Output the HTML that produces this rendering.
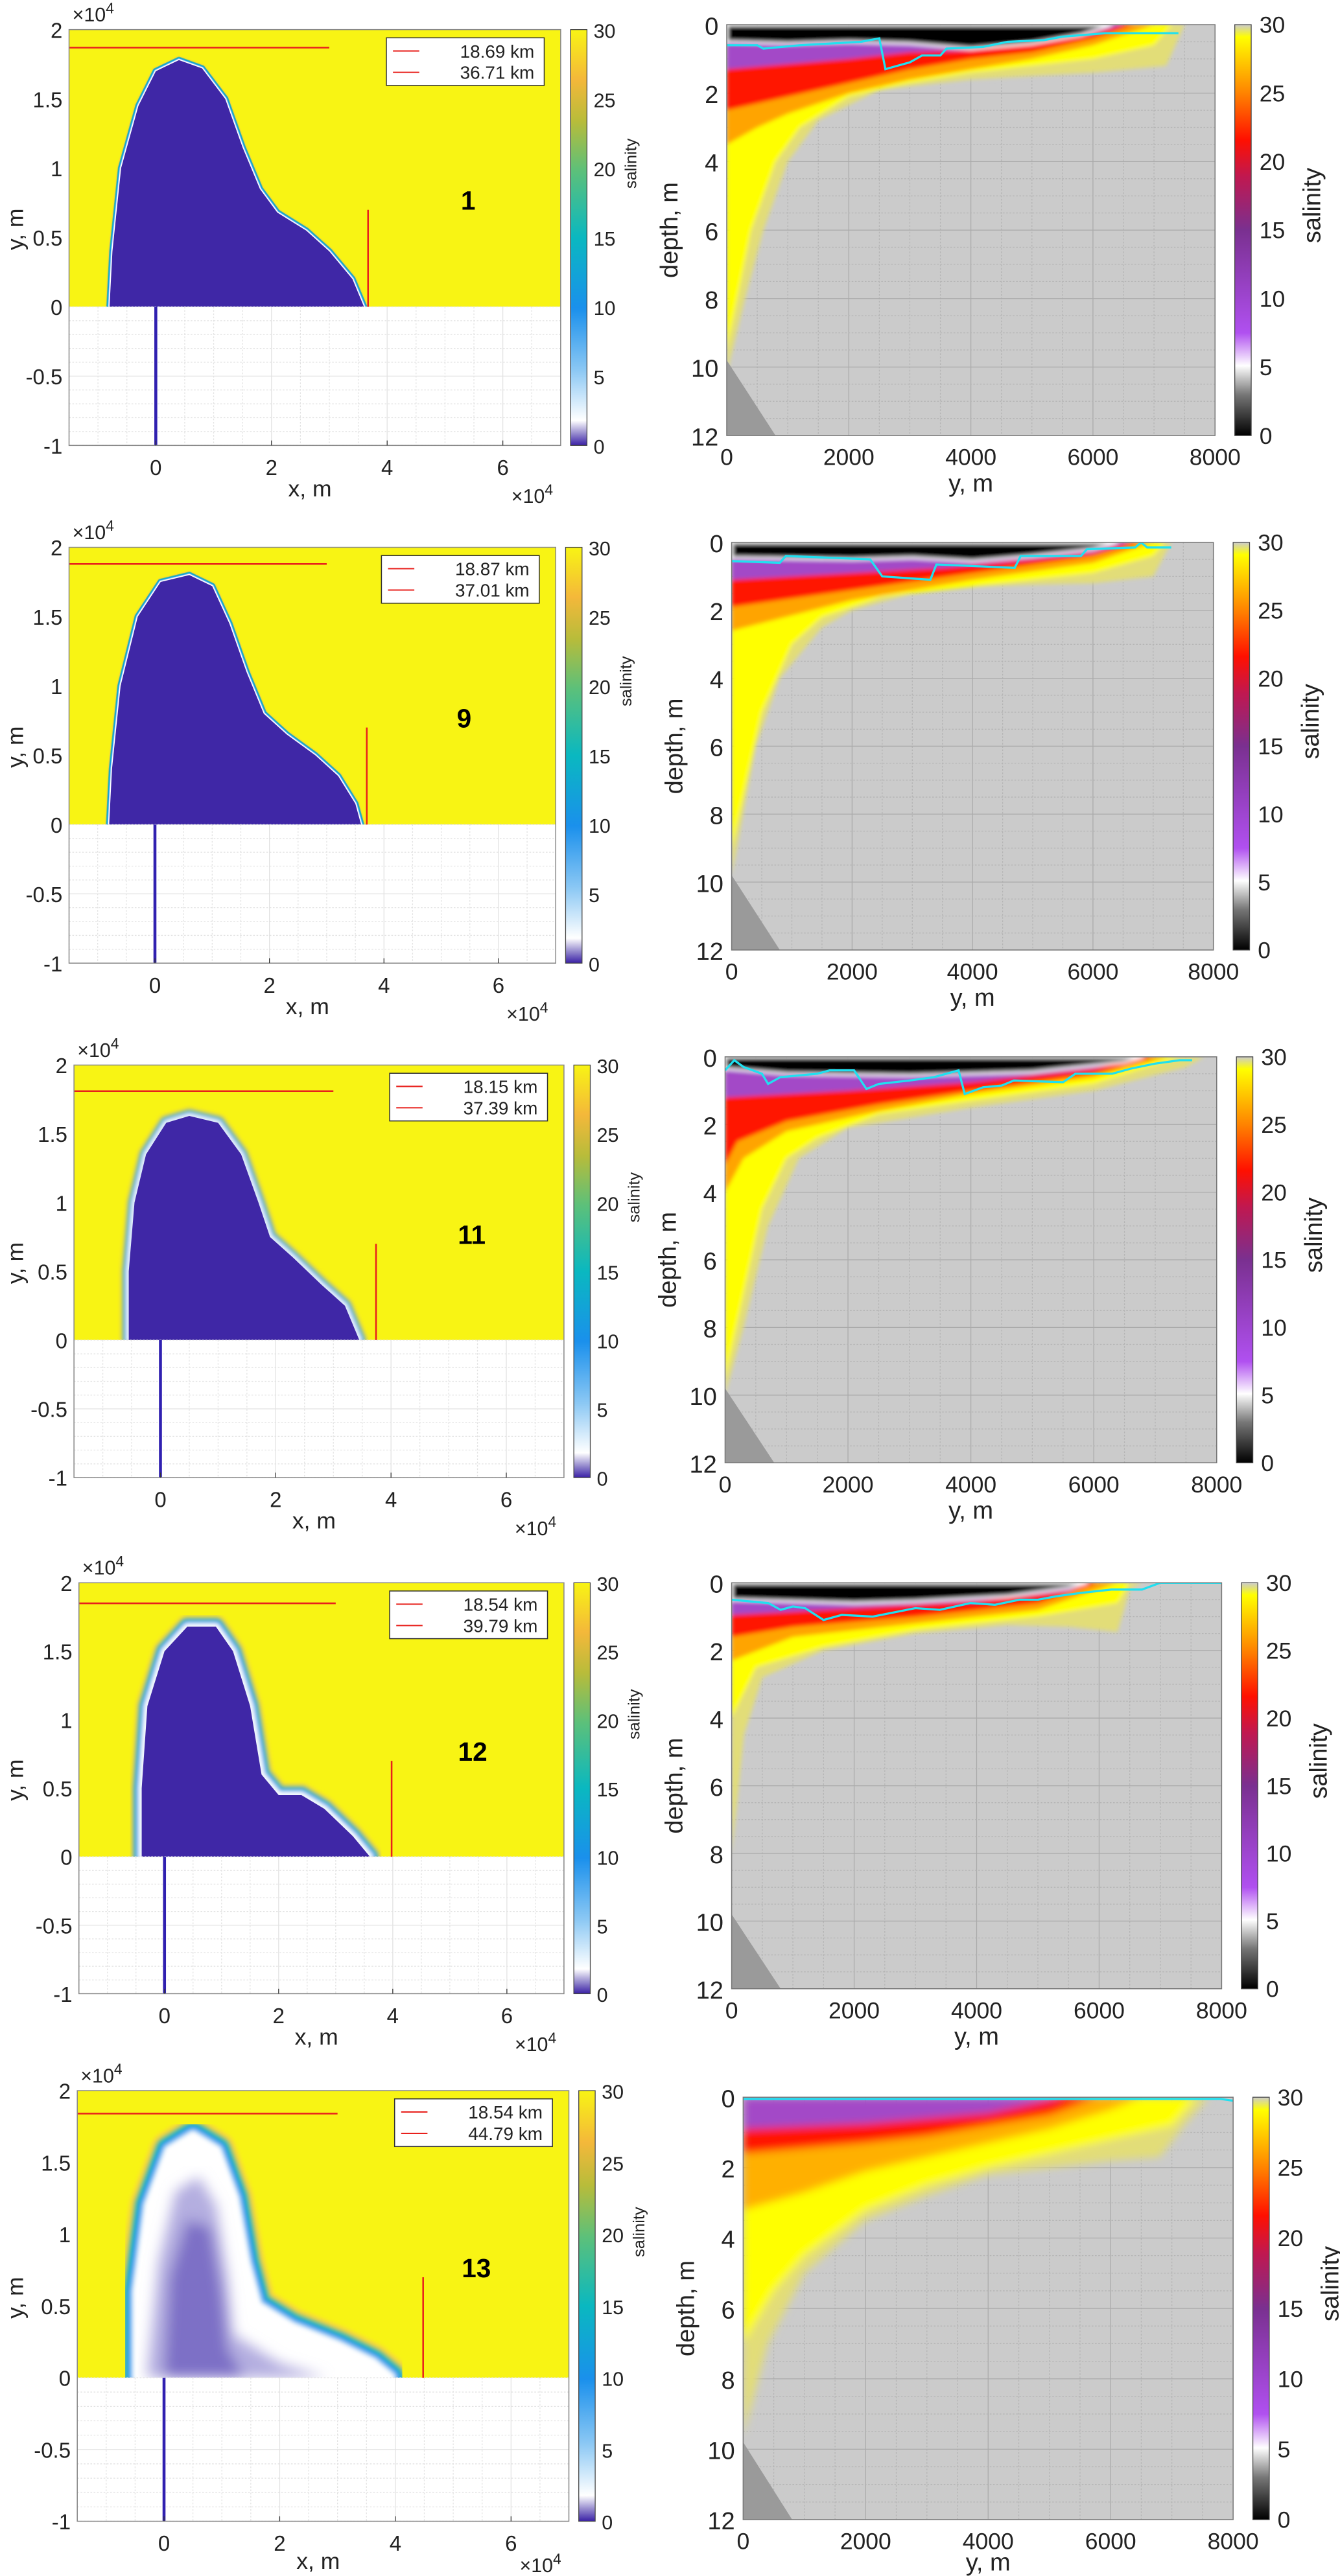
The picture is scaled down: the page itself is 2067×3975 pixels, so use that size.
<!DOCTYPE html>
<html><head><meta charset="utf-8">
<style>
html,body{margin:0;padding:0;background:#fff;}
svg{display:block;font-family:"Liberation Sans",sans-serif;}
</style></head>
<body>
<svg id="fig" width="2067" height="3975" viewBox="0 0 815 1567.3" xmlns="http://www.w3.org/2000/svg">
<defs>
<linearGradient id="parula" x1="0" y1="1" x2="0" y2="0">
<stop offset="0" stop-color="#3a20a6"/><stop offset="0.03" stop-color="#9a90d0"/><stop offset="0.06" stop-color="#ffffff"/>
<stop offset="0.18" stop-color="#8cc8f4"/><stop offset="0.33" stop-color="#1a90ec"/><stop offset="0.5" stop-color="#0ab8c0"/>
<stop offset="0.66" stop-color="#5cc07a"/><stop offset="0.78" stop-color="#b8bc3a"/><stop offset="0.88" stop-color="#f4b83a"/>
<stop offset="1" stop-color="#f8f414"/></linearGradient>
<linearGradient id="hot" x1="0" y1="1" x2="0" y2="0">
<stop offset="0" stop-color="#000"/><stop offset="0.1" stop-color="#777"/><stop offset="0.17" stop-color="#fff"/>
<stop offset="0.25" stop-color="#b050f0"/><stop offset="0.5" stop-color="#7a3090"/><stop offset="0.63" stop-color="#c01850"/>
<stop offset="0.72" stop-color="#ff1000"/><stop offset="0.83" stop-color="#ff8000"/><stop offset="0.97" stop-color="#ffff00"/><stop offset="1" stop-color="#ccc"/></linearGradient>
<filter id="soft" x="-5%" y="-5%" width="110%" height="110%"><feGaussianBlur stdDeviation="1.3"/></filter>
<filter id="soft2" x="-5%" y="-5%" width="110%" height="110%"><feGaussianBlur stdDeviation="2.5"/></filter>
<filter id="soft3" x="-5%" y="-5%" width="110%" height="110%"><feGaussianBlur stdDeviation="4"/></filter>
</defs>
</svg>
<script>
// ---------- data ----------
const panelIds = [1, 9, 11, 12, 13];
const legendA = ["18.69", "18.87", "18.15", "18.54", "18.54"];
const legendB = ["36.71", "37.01", "37.39", "39.79", "44.79"];
const hLineY = [1.87, 1.88, 1.81, 1.85, 1.84];          // x1e4 m
const vLineX = [3.67, 3.70, 3.74, 3.98, 4.48];          // x1e4 m
// plume outlines (x,y in 1e4 m)
const plume1 = [[-0.8,0],[-0.75,0.4],[-0.6,1.0],[-0.3,1.45],[0,1.7],[0.4,1.78],[0.8,1.72],[1.2,1.5],[1.5,1.15],[1.8,0.85],[2.1,0.68],[2.6,0.55],[3.0,0.4],[3.4,0.2],[3.6,0]];
const plume2 = [[-0.8,0],[-0.75,0.4],[-0.6,1.0],[-0.3,1.5],[0.1,1.75],[0.6,1.8],[1.0,1.72],[1.3,1.45],[1.6,1.1],[1.9,0.8],[2.3,0.65],[2.8,0.5],[3.2,0.35],[3.5,0.15],[3.6,0]];
const plume3 = [[-0.55,0],[-0.55,0.5],[-0.45,1.0],[-0.25,1.35],[0.1,1.58],[0.5,1.63],[1.0,1.58],[1.4,1.35],[1.7,1.0],[1.9,0.75],[2.3,0.6],[2.8,0.4],[3.2,0.25],[3.45,0]];
const plume4 = [[-0.4,0],[-0.4,0.5],[-0.3,1.1],[0,1.5],[0.4,1.68],[0.9,1.68],[1.2,1.5],[1.5,1.1],[1.7,0.6],[2.0,0.45],[2.4,0.45],[2.8,0.35],[3.3,0.15],[3.6,0]];
const plume5 = [[-0.45,0],[-0.45,0.6],[-0.25,1.2],[0.1,1.58],[0.5,1.68],[0.9,1.58],[1.2,1.25],[1.4,0.8],[1.6,0.5],[2.2,0.35],[3.0,0.22],[3.6,0.1],[3.9,0]];
const core5a = [[-0.3,0],[-0.1,0.8],[0.2,1.3],[0.6,1.4],[0.9,1.2],[1.1,0.7],[1.2,0.3],[2.0,0.1],[2.8,0]];
const core5b = [[0,0],[0.1,0.7],[0.4,1.1],[0.8,1.05],[1.0,0.6],[1.1,0.2],[1.4,0]];
const plumes = [plume1, plume2, plume3, plume4, plume5];
const haloW = [2.5, 2.5, 5, 7, 12];
// vertical section layers: [y m, depth m]
const sec1 = {
 pale:[[0,10.2],[300,8],[600,6],[1000,4],[1500,2.8],[2500,1.9],[4000,1.6],[6000,1.4],[7200,1.2],[7500,0]],
 yellow:[[0,9.5],[400,6],[800,4],[1200,3],[2000,2.1],[3000,1.7],[4000,1.4],[6000,1.0],[7000,0.6],[7300,0]],
 orange:[[0,3.5],[500,3.0],[1000,2.6],[2000,2.0],[3000,1.6],[4000,1.3],[5000,1.0],[6000,0.6],[7000,0]],
 red:[[0,2.5],[1000,2.1],[2000,1.7],[3000,1.3],[4000,1.0],[5000,0.8],[6000,0.4],[6700,0]],
 purple:[[0,1.3],[2000,1.0],[3000,0.8],[4000,0.75],[5000,0.55],[6000,0.25],[6500,0]],
 black:[[0,0.5],[1000,0.55],[2000,0.5],[3000,0.55],[4000,0.7],[5000,0.55],[5800,0.3],[6300,0]],
 cyan:[[0,0.6],[500,0.6],[600,0.7],[1200,0.6],[2200,0.5],[2500,0.4],[2600,1.3],[3000,1.1],[3200,0.9],[3500,0.9],[3600,0.7],[4200,0.65],[4600,0.5],[5200,0.45],[5500,0.35],[6200,0.25],[7400,0.25]]
};
const sec2 = {
 pale:[[0,9.8],[400,6],[800,4],[1500,2.5],[2000,2.0],[3000,1.5],[4000,1.3],[6000,1.2],[7000,1.0],[7300,0]],
 yellow:[[0,9],[500,5],[1000,3],[1500,2.2],[2500,1.6],[4000,1.3],[6000,0.9],[7000,0.4],[7200,0]],
 orange:[[0,2.6],[2000,1.7],[4000,1.1],[6000,0.6],[7000,0]],
 red:[[0,1.9],[2000,1.4],[4000,0.9],[6000,0.4],[6800,0]],
 purple:[[0,1.1],[2000,0.9],[3500,0.75],[5000,0.5],[6000,0.3],[6600,0]],
 black:[[0,0.45],[2000,0.5],[3000,0.45],[4000,0.55],[5000,0.4],[6000,0.2],[6400,0]],
 cyan:[[0,0.55],[800,0.6],[900,0.4],[2300,0.5],[2500,1.0],[3300,1.1],[3400,0.65],[4700,0.75],[4800,0.4],[5800,0.4],[5900,0.2],[6700,0.15],[6800,0],[6900,0.15],[7300,0.15]]
};
const sec3 = {
 pale:[[0,10],[300,8],[700,5],[1200,3],[2000,2.1],[4000,1.5],[6000,1.0],[7500,0.3],[7800,0]],
 yellow:[[0,9.5],[300,7],[600,4.5],[1000,3],[1500,2.4],[2500,1.7],[4000,1.3],[6000,0.8],[7400,0]],
 orange:[[0,4],[300,3],[1000,2.2],[2500,1.6],[4000,1.1],[6000,0.6],[7200,0]],
 red:[[0,3.2],[200,2.5],[1000,1.9],[2500,1.4],[4000,1.0],[6000,0.5],[7000,0]],
 purple:[[0,1.2],[2000,1.0],[4000,0.75],[6000,0.35],[6800,0]],
 black:[[0,0.35],[1000,0.5],[3000,0.55],[5000,0.45],[6500,0.15],[6800,0]],
 cyan:[[0,0.4],[150,0.1],[300,0.3],[600,0.5],[700,0.8],[900,0.6],[1500,0.5],[1700,0.4],[2100,0.4],[2300,0.95],[2500,0.8],[3000,0.7],[3400,0.6],[3800,0.4],[3900,1.1],[4200,0.9],[4500,0.85],[4700,0.7],[5500,0.75],[5700,0.5],[6300,0.5],[6600,0.35],[7000,0.2],[7400,0.1],[7600,0.1]]
};
const sec4 = {
 pale:[[0,8],[200,4.5],[500,2.8],[1500,2.0],[3000,1.5],[4500,1.25],[5500,1.3],[6300,1.45],[6500,0.2],[6700,0]],
 yellow:[[0,4],[400,2.5],[1500,1.9],[3000,1.4],[5000,1.0],[6300,0.6],[6500,0]],
 orange:[[0,2.3],[1000,1.6],[3000,1.2],[5000,0.8],[6300,0]],
 red:[[0,1.6],[1000,1.3],[3000,1.0],[5000,0.6],[6000,0]],
 purple:[[0,0.95],[2000,0.75],[4000,0.55],[5500,0.25],[5800,0]],
 black:[[0,0.5],[2000,0.6],[3000,0.55],[4500,0.4],[5500,0.15],[5800,0]],
 cyan:[[0,0.5],[600,0.6],[800,0.8],[1000,0.7],[1200,0.75],[1500,1.1],[1800,0.95],[2300,1.0],[3000,0.75],[3400,0.8],[3900,0.6],[4300,0.65],[4700,0.5],[5000,0.5],[5300,0.4],[5700,0.3],[6200,0.2],[6700,0.2],[7000,0],[8000,0]]
};
const sec5 = {
 pale:[[0,9.6],[400,7],[1000,5],[2000,3.5],[3000,2.8],[4000,2.2],[5000,2.0],[6000,1.8],[6800,1.7],[7200,0.8],[7600,0]],
 yellow:[[0,7],[500,5.5],[1000,4.5],[2000,3.2],[3000,2.5],[4000,2.0],[5000,1.6],[6000,1.2],[7000,0.8],[7400,0]],
 orange:[[0,3.2],[1000,2.7],[2000,2.1],[3000,1.7],[4000,1.3],[5000,0.9],[6000,0.35],[6500,0]],
 red:[[0,1.6],[1000,1.45],[2000,1.3],[3000,1.1],[4000,0.8],[5000,0.5],[5800,0]],
 purple:[[0,0.9],[2000,0.75],[4000,0.45],[5200,0]],
 black:[],
 cyan:[[0,0.05],[7800,0.05],[8000,0.1]]
};
const sections = [sec1, sec2, sec3, sec4, sec5];
const xTicks = [0, 2, 4, 6];
const yTicksL = [-1, -0.5, 0, 0.5, 1, 1.5, 2];
const cbTicks = [0, 5, 10, 15, 20, 25, 30];
const yTicksR = [0, 2000, 4000, 6000, 8000];
const depthTicks = [0, 2, 4, 6, 8, 10, 12];

// ---------- layout (not data) ----------
const L = [{x0:42,x1:341,yt:18,yb:271},{x0:42,x1:338,yt:333,yb:586},{x0:45,x1:343,yt:648,yb:899},{x0:48,x1:343,yt:963,yb:1213},{x0:47,x1:346,yt:1272,yb:1534}];
const R = [{x0:442,x1:739,yt:15,yb:265},{x0:445,x1:738,yt:330,yb:578},{x0:441,x1:740,yt:643,yb:890},{x0:445,x1:743,yt:963,yb:1210},{x0:452,x1:750,yt:1276,yb:1533}];
const NS = "http://www.w3.org/2000/svg";
const svg = document.getElementById('fig');
function mk(tag, attrs, parent, txt){const e=document.createElementNS(NS,tag);for(const k in attrs)e.setAttribute(k,attrs[k]);if(txt!==undefined)e.textContent=txt;(parent||svg).appendChild(e);return e;}

panelIds.forEach((pid, i) => {
  const g = mk('g', {});
  
  
  const l = L[i];
  const sx = v => l.x0 + (v + 1.5) / 8.5 * (l.x1 - l.x0);
  const sy = v => l.yb - (v + 1) / 3 * (l.yb - l.yt);
  const y0 = sy(0);
  const last = i == 4;
  // --- map axes ---
  const cid = 'clipTop' + i;
  const cp = mk('clipPath', {id: cid}, g); mk('rect', {x:l.x0, y:l.yt, width:l.x1-l.x0, height:y0-l.yt}, cp);
  const map = mk('g', {'clip-path':'url(#'+cid+')'}, g);
  
  
  mk('rect', {x:l.x0, y:l.yt, width:l.x1-l.x0, height:y0-l.yt, fill:'#f8f414'}, map);
  const pts = plumes[i].map(p => sx(p[0]).toFixed(2) + ',' + sy(p[1]).toFixed(2)).join(' ');
  const w = haloW[i];
  const haloCols = [['#f5c060', 2.0], ['#5cc07a', 1.6], ['#0ab8c0', 1.35], ['#1a90ec', 1.1], ['#8cc8f4', 0.8], ['#ffffff', 0.5]];
  const hg = mk('g', {filter: i >= 2 ? 'url(#soft)' : ''}, map);
  haloCols.forEach(c => {
    mk('polygon', {points: pts, fill: 'none', stroke: c[0], 'stroke-width': w * c[1], 'stroke-linejoin': 'round', opacity: c[0]=='#f5c060' ? 0.6 : 1}, hg);
  });
  const plume = mk('polygon', {points: pts, fill: last ? '#ffffff' : '#3f27a6'}, map);
  
  
  if (last) {
    const cg = mk('g', {filter:'url(#soft3)'}, map);
    mk('polygon', {points: core5a.map(p => sx(p[0]) + ',' + sy(p[1])).join(' '), fill: '#b4aee0'}, cg);
    mk('polygon', {points: core5b.map(p => sx(p[0]) + ',' + sy(p[1])).join(' '), fill: '#7d70c6'}, cg);
  }
  // lower white grid region
  const lg = mk('g', {}, g);
  for (let v = -1.5; v <= 7; v += 0.5) mk('line', {x1:sx(v), x2:sx(v), y1:y0, y2:l.yb, stroke:'#e2e2e2', 'stroke-width':0.5, 'stroke-dasharray': (Math.abs(v%2)<1e-9)?'':'1,1'}, lg);
  for (let v = -1; v < 0; v += 0.1) mk('line', {x1:l.x0, x2:l.x1, y1:sy(v), y2:sy(v), stroke:'#e2e2e2', 'stroke-width':0.5, 'stroke-dasharray': Math.abs(v+0.5)<1e-6?'':'1,1'}, lg);
  // red lines, blue line
  const hl = mk('line', {x1:l.x0, x2:sx(3), y1:sy(hLineY[i]), y2:sy(hLineY[i]), stroke:'#e8201c', 'stroke-width':1}, g);
  
  
  const vl = mk('line', {x1:sx(vLineX[i]), x2:sx(vLineX[i]), y1:sy(0.7), y2:y0, stroke:'#e8201c', 'stroke-width':1}, g);
  
  
  const bl = mk('line', {x1:sx(0), x2:sx(0), y1:y0, y2:l.yb, stroke:'#3020b0', 'stroke-width':1.8}, g);
  
  
  mk('rect', {x:l.x0, y:l.yt, width:l.x1-l.x0, height:l.yb-l.yt, fill:'none', stroke:'#888', 'stroke-width':0.6}, g);
  // ticks
  xTicks.forEach(t => { mk('line',{x1:sx(t),x2:sx(t),y1:l.yb,y2:l.yb-3,stroke:'#333','stroke-width':0.5},g);
    const tx = mk('text',{x:sx(t),y:l.yb+18,'font-size':13,'text-anchor':'middle',fill:'#222'},g,String(t));
      });
  yTicksL.forEach(t => { const tx = mk('text',{x:l.x0-4,y:sy(t)+5,'font-size':13,'text-anchor':'end',fill:'#222'},g,String(t));
      });
  const e1 = mk('text',{x:l.x0+2,y:l.yt-5,'font-size':12,fill:'#222'},g,'×10'); mk('tspan',{dy:-5,'font-size':9},e1,'4');
   
  const e2 = mk('text',{x:l.x1-30,y:l.yb+(last?31:35),'font-size':12,fill:'#222'},g,'×10'); mk('tspan',{dy:-5,'font-size':9},e2,'4');
   
  const xl = mk('text',{x:(l.x0+l.x1)/2-3,y:l.yb+(last?29:31),'font-size':14,'text-anchor':'middle',fill:'#222'},g,'x, m');
   
  const yl = mk('text',{x:0,y:0,'font-size':14,'text-anchor':'middle',fill:'#222',transform:'translate(14,'+((l.yt+l.yb)/2-5)+') rotate(-90)'},g,'y, m');
   
  // panel number
  const nm = mk('text',{x:sx(5.4),y:sy(1.0)+((l.yb-l.yt)*0.1),'font-size':16,'font-weight':'bold','text-anchor':'middle',fill:'#000'},g,String(pid));
   
  // legend
  const lgx = l.x1 - 106, lgy = l.yt + 5;
  const leg = mk('g',{},g);  
  mk('rect',{x:lgx,y:lgy,width:96,height:29,fill:'#fff',stroke:'#333','stroke-width':0.6},leg);
  [legendA[i], legendB[i]].forEach((v,k) => {
    mk('line',{x1:lgx+4,x2:lgx+20,y1:lgy+8+k*13,y2:lgy+8+k*13,stroke:'#e8201c','stroke-width':0.8},leg);
    const t = mk('text',{x:lgx+90,y:lgy+12+k*13,'font-size':11,'text-anchor':'end',fill:'#222'},leg,v+'  km');
     
  });
  // left colorbar
  const cbx = l.x1 + 6, cbw = 10;
  const cb = mk('rect',{x:cbx,y:l.yt,width:cbw,height:l.yb-l.yt,fill:'url(#parula)',stroke:'#444','stroke-width':0.5},g);
   
  cbTicks.forEach(t => { const yy = l.yb - t/30*(l.yb-l.yt);
    mk('text',{x:cbx+cbw+4,y:yy+5,'font-size':12,fill:'#222'},g,String(t)); });
  mk('text',{x:0,y:0,'font-size':10,'text-anchor':'middle',fill:'#222',transform:'translate('+(cbx+cbw+30)+','+((l.yt+l.yb)/2-45)+') rotate(-90)'},g,'salinity');

  // --- section axes ---
  const r = R[i];
  const rx = v => r.x0 + v / 8000 * (r.x1 - r.x0);
  const ry = d => r.yt + d / 12 * (r.yb - r.yt);
  const rc = 'clipR' + i;
  const cp2 = mk('clipPath',{id:rc},g); mk('rect',{x:r.x0,y:r.yt,width:r.x1-r.x0,height:r.yb-r.yt},cp2);
  const sg = mk('g',{'clip-path':'url(#'+rc+')'},g);
  
  
  mk('rect',{x:r.x0,y:r.yt,width:r.x1-r.x0,height:r.yb-r.yt,fill:'#cbcbcb'},sg);
  for (let v = 500; v < 8000; v += 500) mk('line',{x1:rx(v),x2:rx(v),y1:r.yt,y2:r.yb,stroke: v%2000==0?'#aaa':'#b4b4b4','stroke-width':0.5,'stroke-dasharray': v%2000==0?'':'1,1'},sg);
  for (let d = 0.5; d < 12; d += 0.5) mk('line',{x1:r.x0,x2:r.x1,y1:ry(d),y2:ry(d),stroke: d%2==0?'#aaa':'#b4b4b4','stroke-width':0.5,'stroke-dasharray': d%2==0?'':'1,1'},sg);
  const sec = sections[i];
  const lay = mk('g',{filter: last ? 'url(#soft2)' : 'url(#soft)'},sg);
  const layerCols = [['pale','#e2dd78'],['yellow','#ffff00'],['orange', last ? '#ffb000' : '#ffa400'],['red','#ff1800'],['purple','#8e3aa0'],['black','#000000']];
  layerCols.forEach(([k,c]) => {
    const arr = sec[k]; if (!arr.length) return;
    let d = 'M' + rx(0) + ',' + ry(0);
    arr.forEach(p => d += ' L' + rx(p[0]).toFixed(2) + ',' + ry(p[1]).toFixed(2));
    d += ' Z';
    const p = mk('path',{d:d,fill:c},lay);
    
    
    if (k == 'purple') mk('path',{d:d,fill:'#b458e8',opacity:0.55},lay);
    if (k == 'black') mk('path',{d:d,fill:'none',stroke:'#fff','stroke-width':1.5},lay);
  });
  mk('polygon',{points:rx(0)+','+ry(9.8)+' '+rx(0)+','+ry(12)+' '+rx(800)+','+ry(12),fill:'#9a9a9a'},sg);
  const cy = mk('polyline',{points: sec.cyan.map(p => rx(p[0]).toFixed(2)+','+ry(p[1]).toFixed(2)).join(' '),fill:'none',stroke:'#20e0f0','stroke-width':1.3},sg);
  
  
  mk('rect',{x:r.x0,y:r.yt,width:r.x1-r.x0,height:r.yb-r.yt,fill:'none',stroke:'#777','stroke-width':0.6},g);
  yTicksR.forEach(t => { const tx = mk('text',{x:rx(t),y:r.yb+18,'font-size':14,'text-anchor':'middle',fill:'#222'},g,String(t));
      });
  depthTicks.forEach(t => { const tx = mk('text',{x:r.x0-5,y:ry(t)+6,'font-size':15,'text-anchor':'end',fill:'#222'},g,String(t));
      });
  const dl = mk('text',{x:0,y:0,'font-size':15,'text-anchor':'middle',fill:'#222',transform:'translate('+(r.x0-30)+','+((r.yt+r.yb)/2)+') rotate(-90)'},g,'depth, m');
   
  const yl2 = mk('text',{x:(r.x0+r.x1)/2,y:r.yb+(last?31:34),'font-size':15,'text-anchor':'middle',fill:'#222'},g,'y, m');
   
  const cbx2 = r.x1 + 12;
  const cb2 = mk('rect',{x:cbx2,y:r.yt,width:10,height:r.yb-r.yt,fill:'url(#hot)',stroke:'#444','stroke-width':0.5},g);
   
  cbTicks.forEach(t => { const yy = r.yb - t/30*(r.yb-r.yt);
    mk('text',{x:cbx2+15,y:yy+5,'font-size':14,fill:'#222'},g,String(t)); });
  mk('text',{x:0,y:0,'font-size':15,'text-anchor':'middle',fill:'#222',transform:'translate('+(cbx2+52)+','+((r.yt+r.yb)/2-15)+') rotate(-90)'},g,'salinity');
});
</script>
</body></html>
